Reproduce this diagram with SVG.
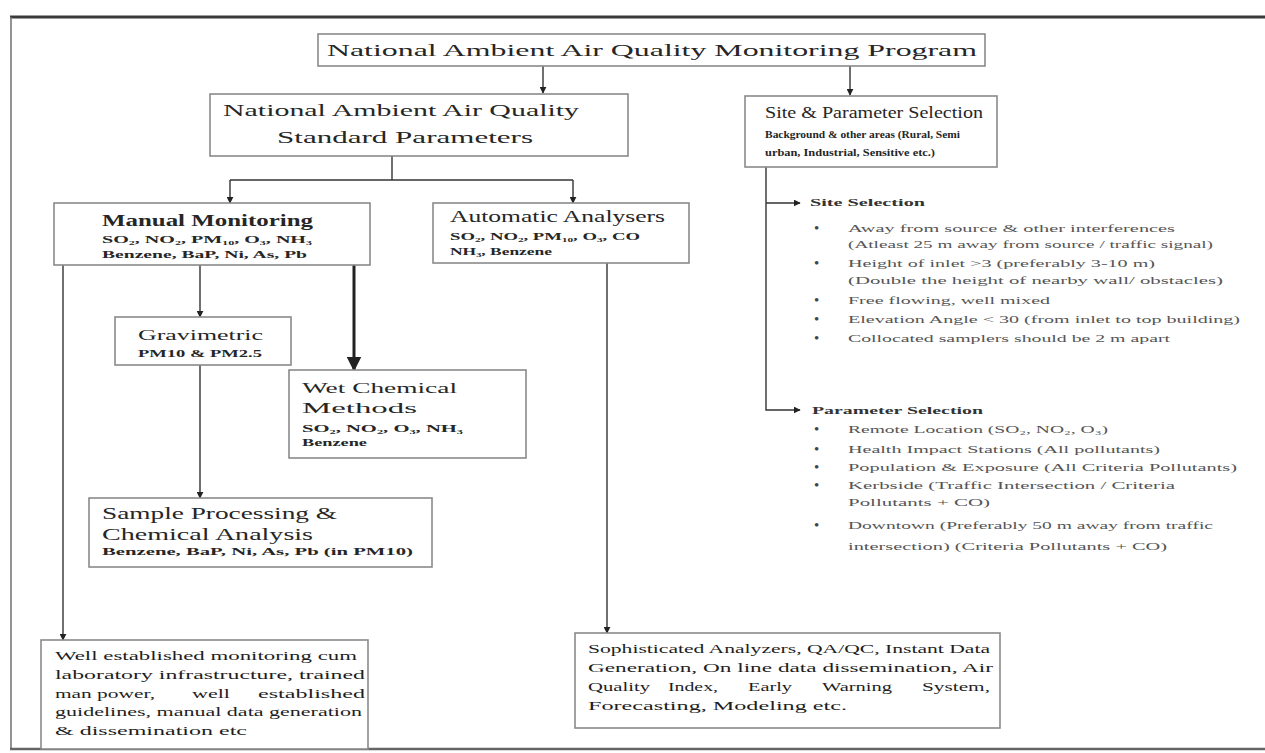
<svg xmlns="http://www.w3.org/2000/svg" width="1265" height="753" viewBox="0 0 1265 753">
<defs>
<style>
.bx{fill:#fff;stroke:#8a8a8a;stroke-width:1.6}
.t{font-family:"Liberation Serif","Times New Roman",serif;fill:#262626}
.h{font-size:17px}
.hb{font-size:16px;font-weight:bold}
.s{font-size:11px;font-weight:bold}
.p{font-size:13px;fill:#1e1e1e}
.l{font-size:11px;fill:#555}
.bu{font-size:15px;fill:#444}
.lb{font-size:10px;font-weight:bold;fill:#333}
.c{fill:none;stroke:#333;stroke-width:1.4}
.ck{fill:none;stroke:#222;stroke-width:3}
</style>
<marker id="ah" viewBox="0 0 10 10" refX="9" refY="5" markerWidth="7" markerHeight="7" orient="auto" markerUnits="userSpaceOnUse">
<path d="M0,0 L10,5 L0,10 z" fill="#222"/>
</marker>
<marker id="ahk" viewBox="0 0 10 10" refX="9" refY="5" markerWidth="5" markerHeight="5" orient="auto">
<path d="M0,0 L10,5 L0,10 z" fill="#222"/>
</marker>
</defs>
<rect x="0" y="0" width="1265" height="753" fill="#fff"/>
<g id="frame">
<line x1="10" y1="17" x2="1265" y2="17" stroke="#3a3a3a" stroke-width="3"/>
<line x1="11" y1="17" x2="11" y2="750" stroke="#777" stroke-width="1.6"/>
<line x1="10" y1="749" x2="1265" y2="749" stroke="#666" stroke-width="2.5"/>
</g>
<g id="connectors">
<path class="c" d="M543,66 V93" marker-end="url(#ah)"/>
<path class="c" d="M850,66 V95" marker-end="url(#ah)"/>
<path class="c" d="M392,156 V180"/>
<path class="c" d="M230,180 H573"/>
<path class="c" d="M230,180 V203" marker-end="url(#ah)"/>
<path class="c" d="M573,180 V203" marker-end="url(#ah)"/>
<path class="c" d="M63,265 V640" marker-end="url(#ah)"/>
<path class="c" d="M200,265 V317" marker-end="url(#ah)"/>
<path class="ck" d="M354,265 V370" marker-end="url(#ahk)"/>
<path class="c" d="M200,365 V498" marker-end="url(#ah)"/>
<path class="c" d="M607,263 V633" marker-end="url(#ah)"/>
<path class="c" d="M766,167 V410 H800" marker-end="url(#ah)"/>
<path class="c" d="M766,203 H800" marker-end="url(#ah)"/>
</g>
<g id="title">
<rect class="bx" x="318" y="34" width="667" height="32"/>
<text class="t h" x="327" y="56" textLength="650" lengthAdjust="spacingAndGlyphs">National Ambient Air Quality Monitoring Program</text>
</g>
<g id="standard">
<rect class="bx" x="210" y="94" width="418" height="62"/>
<text class="t h" x="223" y="116" textLength="356" lengthAdjust="spacingAndGlyphs">National Ambient Air Quality</text>
<text class="t h" x="277" y="143" textLength="256" lengthAdjust="spacingAndGlyphs">Standard Parameters</text>
</g>
<g id="site">
<rect class="bx" x="745" y="96" width="252" height="71"/>
<text class="t h" x="765" y="118" textLength="218" lengthAdjust="spacingAndGlyphs">Site &amp; Parameter Selection</text>
<text class="t s" x="765" y="138" textLength="195" lengthAdjust="spacingAndGlyphs">Background &amp; other areas (Rural, Semi</text>
<text class="t s" x="765" y="156" textLength="170" lengthAdjust="spacingAndGlyphs">urban, Industrial, Sensitive etc.)</text>
</g>
<g id="manual">
<rect class="bx" x="54" y="203" width="316" height="62"/>
<text class="t hb" x="102" y="226" textLength="211" lengthAdjust="spacingAndGlyphs">Manual Monitoring</text>
<text class="t s" x="102" y="243" textLength="210" lengthAdjust="spacingAndGlyphs">SO₂, NO₂, PM₁₀, O₃, NH₃</text>
<text class="t s" x="102" y="258" textLength="205" lengthAdjust="spacingAndGlyphs">Benzene, BaP, Ni, As, Pb</text>
</g>
<g id="automatic">
<rect class="bx" x="433" y="203" width="256" height="60"/>
<text class="t h" x="450" y="222" textLength="215" lengthAdjust="spacingAndGlyphs">Automatic Analysers</text>
<text class="t s" x="450" y="240" textLength="190" lengthAdjust="spacingAndGlyphs">SO₂, NO₂, PM₁₀, O₃, CO</text>
<text class="t s" x="450" y="255" textLength="102" lengthAdjust="spacingAndGlyphs">NH₃, Benzene</text>
</g>
<g id="gravimetric">
<rect class="bx" x="115" y="317" width="176" height="48"/>
<text class="t" font-size="14" x="138" y="340" textLength="125" lengthAdjust="spacingAndGlyphs">Gravimetric</text>
<text class="t s" x="138" y="357" textLength="124" lengthAdjust="spacingAndGlyphs">PM10 &amp; PM2.5</text>
</g>
<g id="wetchemical">
<rect class="bx" x="289" y="370" width="237" height="88"/>
<text class="t" font-size="15" x="302" y="393" textLength="155" lengthAdjust="spacingAndGlyphs">Wet Chemical</text>
<text class="t" font-size="15" x="302" y="413" textLength="115" lengthAdjust="spacingAndGlyphs">Methods</text>
<text class="t s" x="302" y="432" textLength="161" lengthAdjust="spacingAndGlyphs">SO₂, NO₂, O₃, NH₃</text>
<text class="t s" x="302" y="446" textLength="65" lengthAdjust="spacingAndGlyphs">Benzene</text>
</g>
<g id="sample">
<rect class="bx" x="89" y="498" width="343" height="69"/>
<text class="t" font-size="16" x="102" y="519" textLength="235" lengthAdjust="spacingAndGlyphs">Sample Processing &amp;</text>
<text class="t" font-size="16" x="102" y="540" textLength="211" lengthAdjust="spacingAndGlyphs">Chemical Analysis</text>
<text class="t s" x="102" y="555" textLength="311" lengthAdjust="spacingAndGlyphs">Benzene, BaP, Ni, As, Pb (in PM10)</text>
</g>
<g id="manualresult">
<rect class="bx" x="41" y="640" width="327" height="109"/>
<text class="t p" x="55" y="660" textLength="302" lengthAdjust="spacingAndGlyphs">Well established monitoring cum</text>
<text class="t p" x="55" y="679" textLength="310" lengthAdjust="spacingAndGlyphs">laboratory infrastructure, trained</text>
<text class="t p" x="55" y="698" textLength="100" lengthAdjust="spacingAndGlyphs">man power,</text>
<text class="t p" x="192" y="698" textLength="38" lengthAdjust="spacingAndGlyphs">well</text>
<text class="t p" x="258" y="698" textLength="107" lengthAdjust="spacingAndGlyphs">established</text>
<text class="t p" x="55" y="716" textLength="307" lengthAdjust="spacingAndGlyphs">guidelines, manual data generation</text>
<text class="t p" x="55" y="735" textLength="192" lengthAdjust="spacingAndGlyphs">&amp; dissemination etc</text>
</g>
<g id="autoresult">
<rect class="bx" x="575" y="633" width="425" height="95"/>
<text class="t p" x="588" y="653" textLength="402" lengthAdjust="spacingAndGlyphs">Sophisticated Analyzers, QA/QC, Instant Data</text>
<text class="t p" x="588" y="672" textLength="405" lengthAdjust="spacingAndGlyphs">Generation, On line data dissemination, Air</text>
<text class="t p" x="588" y="691" textLength="62" lengthAdjust="spacingAndGlyphs">Quality</text>
<text class="t p" x="668" y="691" textLength="50" lengthAdjust="spacingAndGlyphs">Index,</text>
<text class="t p" x="748" y="691" textLength="44" lengthAdjust="spacingAndGlyphs">Early</text>
<text class="t p" x="822" y="691" textLength="70" lengthAdjust="spacingAndGlyphs">Warning</text>
<text class="t p" x="922" y="691" textLength="68" lengthAdjust="spacingAndGlyphs">System,</text>
<text class="t p" x="588" y="710" textLength="259" lengthAdjust="spacingAndGlyphs">Forecasting, Modeling etc.</text>
</g>
<g id="siteselection">
<text class="t lb" x="810" y="206" textLength="115" lengthAdjust="spacingAndGlyphs">Site Selection</text>
<text class="t bu" x="814" y="233">•</text>
<text class="t l" x="848" y="232" textLength="327" lengthAdjust="spacingAndGlyphs">Away from source &amp; other interferences</text>
<text class="t l" x="848" y="248" textLength="365" lengthAdjust="spacingAndGlyphs">(Atleast 25 m away from source / traffic signal)</text>
<text class="t bu" x="814" y="268">•</text>
<text class="t l" x="848" y="267" textLength="307" lengthAdjust="spacingAndGlyphs">Height of inlet &gt;3 (preferably 3-10 m)</text>
<text class="t l" x="848" y="284" textLength="375" lengthAdjust="spacingAndGlyphs">(Double the height of nearby wall/ obstacles)</text>
<text class="t bu" x="814" y="305">•</text>
<text class="t l" x="848" y="304" textLength="202" lengthAdjust="spacingAndGlyphs">Free flowing, well mixed</text>
<text class="t bu" x="814" y="324">•</text>
<text class="t l" x="848" y="323" textLength="392" lengthAdjust="spacingAndGlyphs">Elevation Angle &lt; 30 (from inlet to top building)</text>
<text class="t bu" x="814" y="343">•</text>
<text class="t l" x="848" y="342" textLength="322" lengthAdjust="spacingAndGlyphs">Collocated samplers should be 2 m apart</text>
</g>
<g id="parameterselection">
<text class="t lb" x="812" y="414" textLength="171" lengthAdjust="spacingAndGlyphs">Parameter Selection</text>
<text class="t bu" x="814" y="434">•</text>
<text class="t l" x="848" y="433" textLength="260" lengthAdjust="spacingAndGlyphs">Remote Location (SO₂, NO₂, O₃)</text>
<text class="t bu" x="814" y="454">•</text>
<text class="t l" x="848" y="453" textLength="312" lengthAdjust="spacingAndGlyphs">Health Impact Stations (All pollutants)</text>
<text class="t bu" x="814" y="472">•</text>
<text class="t l" x="848" y="471" textLength="389" lengthAdjust="spacingAndGlyphs">Population &amp; Exposure (All Criteria Pollutants)</text>
<text class="t bu" x="814" y="490">•</text>
<text class="t l" x="848" y="489" textLength="327" lengthAdjust="spacingAndGlyphs">Kerbside (Traffic Intersection / Criteria</text>
<text class="t l" x="848" y="506" textLength="142" lengthAdjust="spacingAndGlyphs">Pollutants + CO)</text>
<text class="t bu" x="814" y="530">•</text>
<text class="t l" x="848" y="529" textLength="365" lengthAdjust="spacingAndGlyphs">Downtown (Preferably 50 m away from traffic</text>
<text class="t l" x="848" y="550" textLength="319" lengthAdjust="spacingAndGlyphs">intersection) (Criteria Pollutants + CO)</text>
</g>
</svg>
